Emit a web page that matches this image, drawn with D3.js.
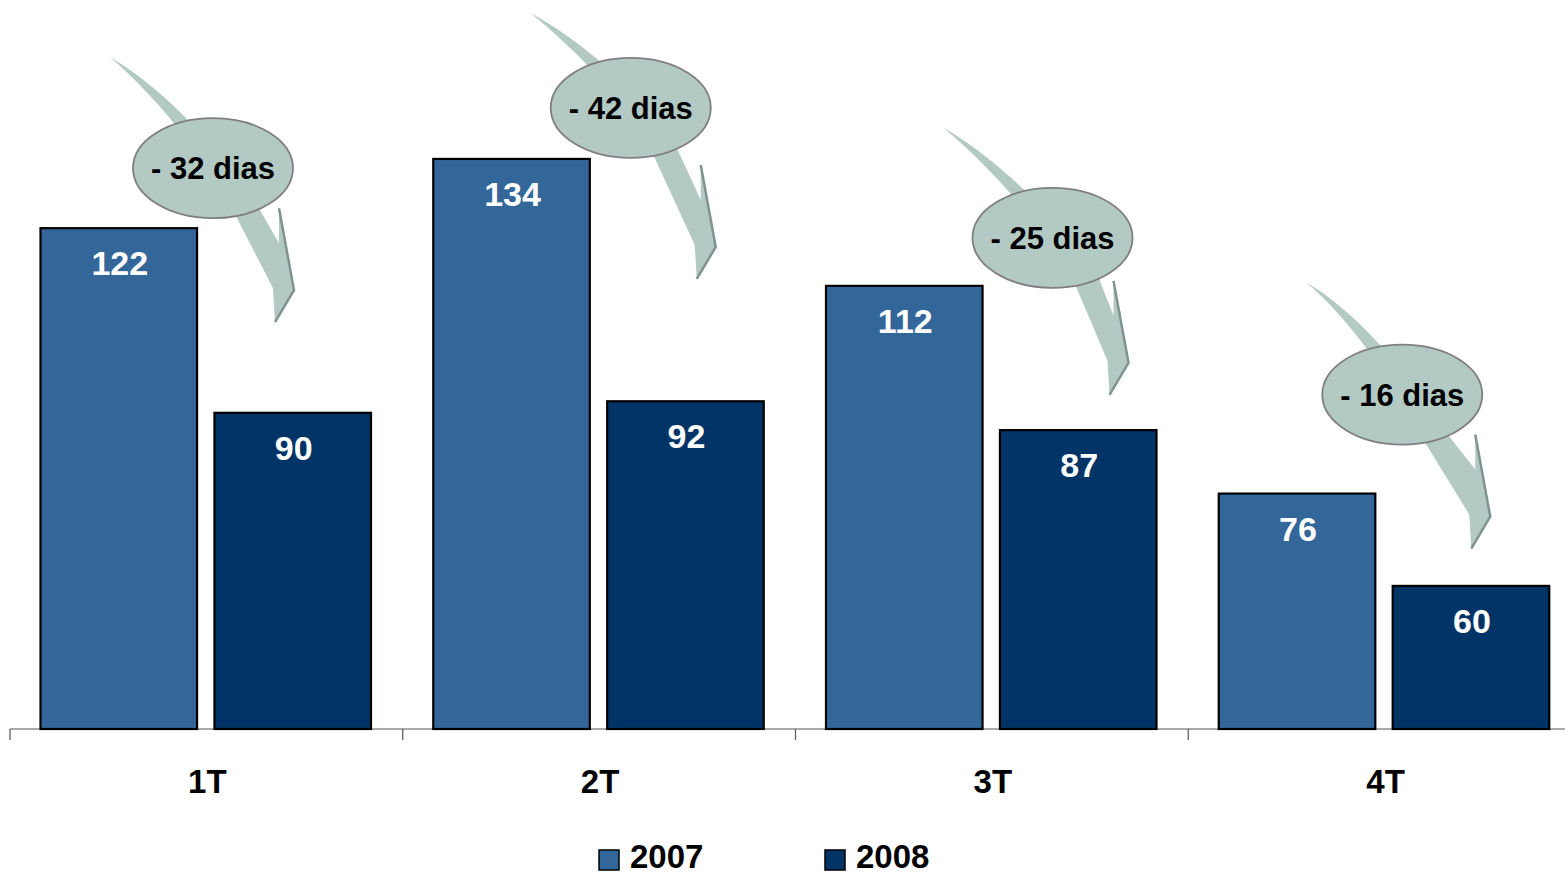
<!DOCTYPE html>
<html><head><meta charset="utf-8">
<script src="https://cdn.jsdelivr.net/npm/d3@7"></script>
<style>html,body{margin:0;padding:0;background:#fff;}svg{display:block;}</style>
</head><body>
<svg id="chart" width="1565" height="875"></svg>
<script>
// ---- data ----
const categories = ["1T", "2T", "3T", "4T"];
const seriesNames = ["2007", "2008"];
const values2007 = [122, 134, 112, 76];
const values2008 = [90, 92, 87, 60];
const reductionLabels = ["- 32 dias", "- 42 dias", "- 25 dias", "- 16 dias"];

// ---- layout (not data) ----
const W = 1565, H = 875;
const baseY = 729;
const colors = {"2007": "#336699", "2008": "#003366"};
// callout ellipse centre: offset from group start (x) and from 2007 bar top (y)
const calloutOffsets = [[203, -60], [228, -51], [257, -48], [214, -99]];
// arrow tail position relative to ellipse centre, and shift of arrow head
const tailOffsets = [[-103, -111], [-100, -95], [-109, -110], [-96, -112]];
const headShifts = [[0, 0], [4, 17], [-5, 3], [7, 0]];

const svg = d3.select("#chart");
const font = "'Liberation Sans', Arial, sans-serif";

const x0 = d3.scaleBand().domain(categories).range([10, 1581]).paddingInner(0).paddingOuter(0);
const x1 = d3.scaleBand().domain(seriesNames).range([30.5, 361]).paddingInner(0.1).paddingOuter(0);
const y = d3.scaleLinear().domain([35.2, 150]).range([baseY, baseY - (150 - 35.2) * 5.77]);

const rows = categories.map((c, i) => ({cat: c, vals: [
  {s: "2007", v: values2007[i]}, {s: "2008", v: values2008[i]}]}));

// axis
const axisG = svg.append("g").attr("transform", `translate(0,${baseY})`)
  .call(d3.axisBottom(x0).tickSize(0).tickFormat(""));
axisG.select(".domain").attr("stroke", "#555").attr("stroke-width", 1.2).attr("d", `M10,0H${W}`);
axisG.selectAll(".tick").remove();
const bounds = categories.map(c => x0(c));
axisG.selectAll("line.sep").data(bounds).join("line").attr("class", "sep")
  .attr("x1", d => d).attr("x2", d => d).attr("y1", 0).attr("y2", 11)
  .attr("stroke", "#555").attr("stroke-width", 1.2);

// category labels
svg.selectAll("text.cat").data(categories).join("text").attr("class", "cat")
  .attr("x", d => x0(d) + x0.bandwidth() / 2 + 1)
  .attr("y", 793).attr("text-anchor", "middle")
  .attr("font-family", font).attr("font-weight", "bold").attr("font-size", 33)
  .attr("fill", "#000").text(d => d);

// bars
const g = svg.selectAll("g.grp").data(rows).join("g").attr("class", "grp")
  .attr("transform", d => `translate(${x0(d.cat)},0)`);
g.selectAll("rect").data(d => d.vals).join("rect")
  .attr("x", d => x1(d.s)).attr("width", x1.bandwidth())
  .attr("y", d => y(d.v)).attr("height", d => baseY - y(d.v))
  .attr("fill", d => colors[d.s]).attr("stroke", "#000").attr("stroke-width", 2.2);
g.selectAll("text.val").data(d => d.vals).join("text").attr("class", "val")
  .attr("x", d => x1(d.s) + x1.bandwidth() / 2 + 1).attr("y", d => y(d.v) + 47)
  .attr("text-anchor", "middle").attr("font-family", font).attr("font-weight", "bold")
  .attr("font-size", 34).attr("fill", "#fff").text(d => d.v);

// callouts: curved arrows + ellipses
const arrowFill = "#b3c9c4";
function arrowPath(cx, cy, tail, hs) {
  const p = (dx, dy) => `${cx + dx},${cy + dy}`;
  const h = (dx, dy) => p(dx + hs[0], dy + hs[1]);
  const [tx, ty] = tail;
  return `M${p(tx, ty)} C${p(tx + 45, ty + 25)} ${p(10, -20)} ${p(47, 42)}` +
    ` L${h(66, 75)} L${h(66, 40)} L${h(81, 122)} L${h(62, 154)} L${h(60, 120)}` +
    ` L${p(24, 50)} C${p(-5, -10)} ${p(tx + 40, ty + 33)} ${p(tx, ty)} Z`;
}
const call = svg.selectAll("g.call").data(rows).join("g").attr("class", "call");
call.each(function(d, i) {
  const cx = x0(d.cat) + calloutOffsets[i][0];
  const cy = y(values2007[i]) + calloutOffsets[i][1];
  const hs = headShifts[i];
  const sel = d3.select(this);
  sel.append("path").attr("d", arrowPath(cx, cy, tailOffsets[i], hs))
    .attr("fill", arrowFill).attr("stroke", "none");
  // shaded right edge of arrow head
  sel.append("path")
    .attr("d", `M${cx+66+hs[0]},${cy+40+hs[1]} L${cx+81+hs[0]},${cy+122+hs[1]} L${cx+62+hs[0]},${cy+154+hs[1]}`)
    .attr("fill", "none").attr("stroke", "#7f9490").attr("stroke-width", 2.5)
    .attr("stroke-linejoin", "miter");
  sel.append("ellipse").attr("cx", cx).attr("cy", cy).attr("rx", 80).attr("ry", 50)
    .attr("fill", arrowFill).attr("stroke", "#7f7f7f").attr("stroke-width", 1.8);
  sel.append("text").attr("x", cx).attr("y", cy + 11).attr("text-anchor", "middle")
    .attr("font-family", font).attr("font-weight", "bold").attr("font-size", 31)
    .attr("fill", "#000").text(reductionLabels[i]);
});

// legend
const legendX = [599, 825];
const lg = svg.selectAll("g.leg").data(seriesNames).join("g").attr("class", "leg")
  .attr("transform", (d, i) => `translate(${legendX[i]},850)`);
lg.append("rect").attr("width", 20).attr("height", 20)
  .attr("fill", d => colors[d]).attr("stroke", "#000").attr("stroke-width", 1.5);
lg.append("text").attr("x", 31).attr("y", 18).attr("font-family", font)
  .attr("font-weight", "bold").attr("font-size", 33).attr("fill", "#000").text(d => d);
</script>
</body></html>
